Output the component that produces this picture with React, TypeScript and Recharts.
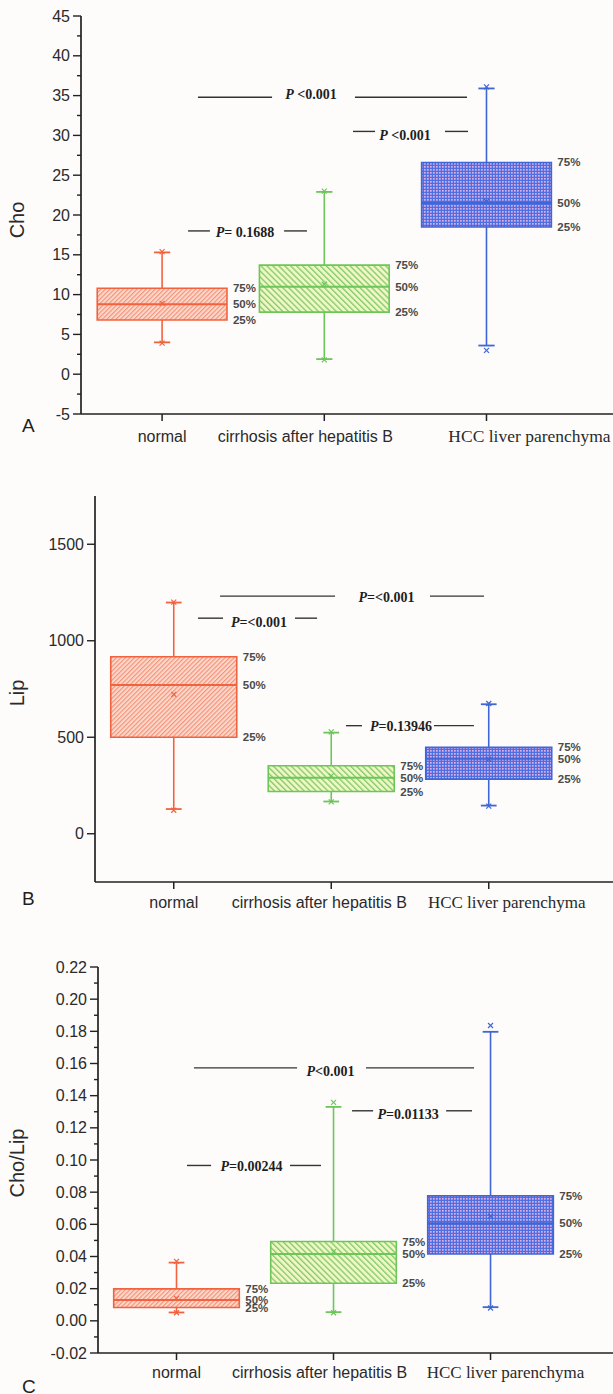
import React from 'react';
import { ComposedChart, XAxis, YAxis, ReferenceArea, ReferenceLine, Scatter } from 'recharts';

const groups = ['normal', 'cirrhosis after hepatitis B', 'HCC liver parenchyma'];
const positions = [1, 2, 3];

// A: Cho
const choMin = [4.0, 1.9, 3.6];
const choQ1 = [6.8, 7.8, 18.5];
const choMedian = [8.8, 11.0, 21.5];
const choQ3 = [10.8, 13.7, 26.6];
const choMax = [15.3, 22.9, 35.9];
const choMean = [8.9, 11.3, 21.7];
const choExtLow = [3.9, 1.8, 3.0];
const choExtHigh = [15.4, 23.0, 36.1];
const choTicks = [-5, 0, 5, 10, 15, 20, 25, 30, 35, 40, 45];
const choMinorTicks = [-2.5, 2.5, 7.5, 12.5, 17.5, 22.5, 27.5, 32.5, 37.5, 42.5];
const choP = [' <0.001', ' <0.001', '= 0.1688'];

// B: Lip
const lipMin = [128, 167, 146];
const lipQ1 = [500, 219, 283];
const lipMedian = [771, 290, 389];
const lipQ3 = [917, 352, 448];
const lipMax = [1198, 524, 671];
const lipMean = [722, 300, 386];
const lipExtLow = [122, 165, 143];
const lipExtHigh = [1200, 528, 675];
const lipTicks = [0, 500, 1000, 1500];
const lipMinorTicks: number[] = [];
const lipP = ['=<0.001', '=<0.001', '=0.13946'];

// C: Cho/Lip
const ratioMin = [0.0052, 0.0054, 0.0085];
const ratioQ1 = [0.0083, 0.0234, 0.0416];
const ratioMedian = [0.013, 0.0415, 0.0607];
const ratioQ3 = [0.0199, 0.0493, 0.0778];
const ratioMax = [0.0362, 0.133, 0.1797];
const ratioMean = [0.014, 0.043, 0.065];
const ratioExtLow = [0.005, 0.005, 0.008];
const ratioExtHigh = [0.037, 0.1358, 0.1836];
const ratioTicks = [-0.02, 0, 0.02, 0.04, 0.06, 0.08, 0.1, 0.12, 0.14, 0.16, 0.18, 0.2, 0.22];
const ratioMinorTicks = [-0.01, 0.01, 0.03, 0.05, 0.07, 0.09, 0.11, 0.13, 0.15, 0.17, 0.19, 0.21];
const ratioP = ['<0.001', '=0.01133', '=0.00244'];

// significance bars: line height, text height, line ends, text centre (data units)
const choNotes = [
  { y: 34.8, ty: 35.2, xs: [1.221, 1.678, 2.189, 2.88], tx: 1.918 },
  { y: 30.5, ty: 30.0, xs: [2.177, 2.313, 2.744, 2.886], tx: 2.498 },
  { y: 18.0, ty: 17.8, xs: [1.16, 1.295, 1.752, 1.893], tx: 1.511 },
];
const lipNotes = [
  { y: 1231, ty: 1226, xs: [1.294, 2.024, 2.627, 2.97], tx: 2.351 },
  { y: 1117, ty: 1096, xs: [1.154, 1.313, 1.77, 1.91], tx: 1.541 },
  { y: 560, ty: 558, xs: [2.094, 2.195, 2.652, 2.906], tx: 2.443 },
];
const ratioNotes = [
  { y: 0.1573, ty: 0.155, xs: [1.111, 1.768, 2.207, 2.895], tx: 1.981 },
  { y: 0.1306, ty: 0.1288, xs: [2.118, 2.252, 2.717, 2.882], tx: 2.475 },
  { y: 0.0966, ty: 0.096, xs: [1.067, 1.22, 1.723, 1.92], tx: 1.478 },
];

const AXIS = '#222';
const SANS = "'Liberation Sans', Arial, sans-serif";
const SERIF = "'Liberation Serif', 'Times New Roman', serif";
const COLORS = ['#f1623f', '#6cc65a', '#3e66d6'];

function XTick({ x, y, payload, shifts, baseline, hccSize }: any) {
  const i = Math.round(payload.value) - 1;
  const serif = i === 2;
  return (
    <g>
      <line x1={x} x2={x} y1={y} y2={y + 7} stroke={AXIS} strokeWidth={1.5} />
      <text
        x={x + shifts[i]}
        y={y + baseline}
        textAnchor="middle"
        fontFamily={serif ? SERIF : SANS}
        fontSize={serif ? hccSize : 16}
        fill="#2a2a2a"
      >
        {groups[i]}
      </text>
    </g>
  );
}

function YTick({ x, y, payload, major, digits }: any) {
  const isMajor = major.some((m: number) => Math.abs(m - payload.value) < 1e-9);
  return (
    <g>
      <line x1={x - (isMajor ? 8 : 4)} x2={x} y1={y} y2={y} stroke={AXIS} strokeWidth={1.4} />
      {isMajor && (
        <text x={x - 11} y={y} dy="0.35em" textAnchor="end" fontFamily={SANS} fontSize={16} fill="#2a2a2a">
          {payload.value.toFixed(digits)}
        </text>
      )}
    </g>
  );
}

function Cross({ cx, cy, fill }: any) {
  const s = 2.5;
  return (
    <g stroke={fill} strokeWidth={1.2}>
      <line x1={cx - s} y1={cy - s} x2={cx + s} y2={cy + s} />
      <line x1={cx - s} y1={cy + s} x2={cx + s} y2={cy - s} />
    </g>
  );
}

function BoxPanel(p: any) {
  const hw = 0.4;
  const cap = 0.05;
  const id = p.id;
  const fills = [`url(#${id}-red)`, `url(#${id}-green)`, `url(#${id}-blue)`];
  const allTicks = [...p.ticks, ...p.minor].sort((a: number, b: number) => a - b);

  const pctPoints = positions.flatMap((x, i) => [
    { x: x + hw, y: p.q3[i], t: '75%' },
    { x: x + hw, y: p.median[i], t: '50%' },
    { x: x + hw, y: p.q1[i], t: '25%' },
  ]);
  const notePoints = p.notes.map((n: any, i: number) => ({ x: n.tx, y: n.ty, t: p.pTexts[i] }));

  return (
    <div style={{ position: 'absolute', left: 0, top: p.top }}>
      <ComposedChart width={613} height={p.height} margin={{ top: p.marginTop, right: 0, bottom: 0, left: 0 }}>
        <defs>
          <pattern id={`${id}-red`} width="3.2" height="3.2" patternUnits="userSpaceOnUse" patternTransform="rotate(45)">
            <rect width="3.2" height="3.2" fill="#fcd8cb" />
            <line x1="0.6" y1="0" x2="0.6" y2="3.2" stroke="#f38f76" strokeWidth="1.1" />
          </pattern>
          <pattern id={`${id}-green`} width="4.2" height="4.2" patternUnits="userSpaceOnUse" patternTransform="rotate(-45)">
            <rect width="4.2" height="4.2" fill="#f1f7c4" />
            <line x1="0.7" y1="0" x2="0.7" y2="4.2" stroke="#7fca6a" strokeWidth="1.3" />
          </pattern>
          <pattern id={`${id}-blue`} width="3" height="3" patternUnits="userSpaceOnUse">
            <rect width="3" height="3" fill="#4e6fdf" />
            <rect x="1" y="1" width="1.7" height="1.7" fill="#dcaee9" />
          </pattern>
        </defs>

        <XAxis
          type="number"
          dataKey="x"
          domain={[0.5, p.xMax]}
          allowDataOverflow
          ticks={positions}
          interval={0}
          height={p.axisHeight}
          tickSize={0}
          tickMargin={0}
          tickLine={false}
          axisLine={{ stroke: AXIS, strokeWidth: 1.7 }}
          tick={(t: any) => <XTick {...t} shifts={p.labelShift} baseline={p.labelBaseline} hccSize={p.hccSize} />}
        />
        <YAxis
          type="number"
          dataKey="y"
          domain={p.domain}
          allowDataOverflow
          ticks={allTicks}
          interval={0}
          width={p.axisWidth}
          tickSize={0}
          tickMargin={0}
          tickLine={false}
          axisLine={{ stroke: AXIS, strokeWidth: 1.7 }}
          tick={(t: any) => <YTick {...t} major={p.ticks} digits={p.digits} />}
          label={{
            content: (lp: any) => {
              const vb = lp.viewBox;
              const cy = vb.y + vb.height / 2 + p.yLabelShift;
              return (
                <text x={24} y={cy} transform={`rotate(-90 24 ${cy})`} textAnchor="middle" fontFamily={SANS} fontSize={20} fill="#2a2a2a">
                  {p.yLabel}
                </text>
              );
            },
          }}
        />

        {/* boxes */}
        {positions.map((x, i) => (
          <ReferenceArea key={`box${i}`} x1={x - hw} x2={x + hw} y1={p.q1[i]} y2={p.q3[i]} fill={fills[i]} fillOpacity={1} stroke={COLORS[i]} strokeWidth={1.6} ifOverflow="visible" />
        ))}
        {/* whiskers */}
        {positions.map((x, i) => (
          <ReferenceLine key={`wu${i}`} segment={[{ x, y: p.q3[i] }, { x, y: p.max[i] }]} stroke={COLORS[i]} strokeWidth={1.6} ifOverflow="visible" />
        ))}
        {positions.map((x, i) => (
          <ReferenceLine key={`wl${i}`} segment={[{ x, y: p.min[i] }, { x, y: p.q1[i] }]} stroke={COLORS[i]} strokeWidth={1.6} ifOverflow="visible" />
        ))}
        {positions.map((x, i) => (
          <ReferenceLine key={`cu${i}`} segment={[{ x: x - cap, y: p.max[i] }, { x: x + cap, y: p.max[i] }]} stroke={COLORS[i]} strokeWidth={1.8} ifOverflow="visible" />
        ))}
        {positions.map((x, i) => (
          <ReferenceLine key={`cl${i}`} segment={[{ x: x - cap, y: p.min[i] }, { x: x + cap, y: p.min[i] }]} stroke={COLORS[i]} strokeWidth={1.8} ifOverflow="visible" />
        ))}
        {positions.map((x, i) => (
          <ReferenceLine key={`md${i}`} segment={[{ x: x - hw, y: p.median[i] }, { x: x + hw, y: p.median[i] }]} stroke={COLORS[i]} strokeWidth={2} ifOverflow="visible" />
        ))}

        {/* significance bars */}
        {p.notes.map((n: any, i: number) => (
          <ReferenceLine key={`nl${i}`} segment={[{ x: n.xs[0], y: n.y }, { x: n.xs[1], y: n.y }]} stroke="#333" strokeWidth={1.4} ifOverflow="visible" />
        ))}
        {p.notes.map((n: any, i: number) => (
          <ReferenceLine key={`nr${i}`} segment={[{ x: n.xs[2], y: n.y }, { x: n.xs[3], y: n.y }]} stroke="#333" strokeWidth={1.4} ifOverflow="visible" />
        ))}

        {positions.map((x, i) => (
          <Scatter
            key={`mk${i}`}
            data={[{ x, y: p.mean[i] }, { x, y: p.extLow[i] }, { x, y: p.extHigh[i] }]}
            fill={COLORS[i]}
            isAnimationActive={false}
            shape={(s: any) => <Cross cx={s.cx} cy={s.cy} fill={COLORS[i]} />}
          />
        ))}

        <Scatter
          data={pctPoints}
          isAnimationActive={false}
          shape={(s: any) => (
            <text x={s.cx + 6} y={s.cy} dy="0.35em" fontFamily={SANS} fontSize={11.5} fontWeight="bold" fill="#4a4a4a">
              {s.payload.t}
            </text>
          )}
        />
        <Scatter
          data={notePoints}
          isAnimationActive={false}
          shape={(s: any) => (
            <text x={s.cx} y={s.cy} dy="0.35em" textAnchor="middle" fontFamily={SERIF} fontSize={14} fontWeight="bold" fill="#1e1e1e">
              <tspan fontStyle="italic">P</tspan>
              {s.payload.t}
            </text>
          )}
        />

        <text x={22} y={p.letterY} fontFamily={SANS} fontSize={19} fill="#1e1e1e">
          {p.letter}
        </text>
      </ComposedChart>
    </div>
  );
}

export default function App() {
  return (
    <div style={{ position: 'absolute', left: 0, top: 0, width: 613, height: 1394, background: '#fdfcfb', overflow: 'hidden' }}>
      <BoxPanel
        id="a" top={0} height={470} marginTop={16} axisHeight={56} axisWidth={81} xMax={3.78}
        domain={[-5, 45]} ticks={choTicks} minor={choMinorTicks} digits={0}
        yLabel="Cho" yLabelShift={5} letter="A" letterY={432}
        min={choMin} q1={choQ1} median={choMedian} q3={choQ3} max={choMax} mean={choMean}
        extLow={choExtLow} extHigh={choExtHigh} pTexts={choP} notes={choNotes}
        labelShift={[0, -19, 43]} labelBaseline={28} hccSize={17.5}
      />
      <BoxPanel
        id="b" top={470} height={462} marginTop={26} axisHeight={50} axisWidth={95} xMax={3.789}
        domain={[-250, 1750]} ticks={lipTicks} minor={lipMinorTicks} digits={0}
        yLabel="Lip" yLabelShift={4} letter="B" letterY={435}
        min={lipMin} q1={lipQ1} median={lipMedian} q3={lipQ3} max={lipMax} mean={lipMean}
        extLow={lipExtLow} extHigh={lipExtHigh} pTexts={lipP} notes={lipNotes}
        labelShift={[0, -12, 18]} labelBaseline={26} hccSize={17}
      />
      <BoxPanel
        id="c" top={930} height={464} marginTop={37} axisHeight={41} axisWidth={98} xMax={3.78}
        domain={[-0.02, 0.22]} ticks={ratioTicks} minor={ratioMinorTicks} digits={2}
        yLabel="Cho/Lip" yLabelShift={3} letter="C" letterY={463}
        min={ratioMin} q1={ratioQ1} median={ratioMedian} q3={ratioQ3} max={ratioMax} mean={ratioMean}
        extLow={ratioExtLow} extHigh={ratioExtHigh} pTexts={ratioP} notes={ratioNotes}
        labelShift={[0, -14, 15]} labelBaseline={25} hccSize={17}
      />
    </div>
  );
}
